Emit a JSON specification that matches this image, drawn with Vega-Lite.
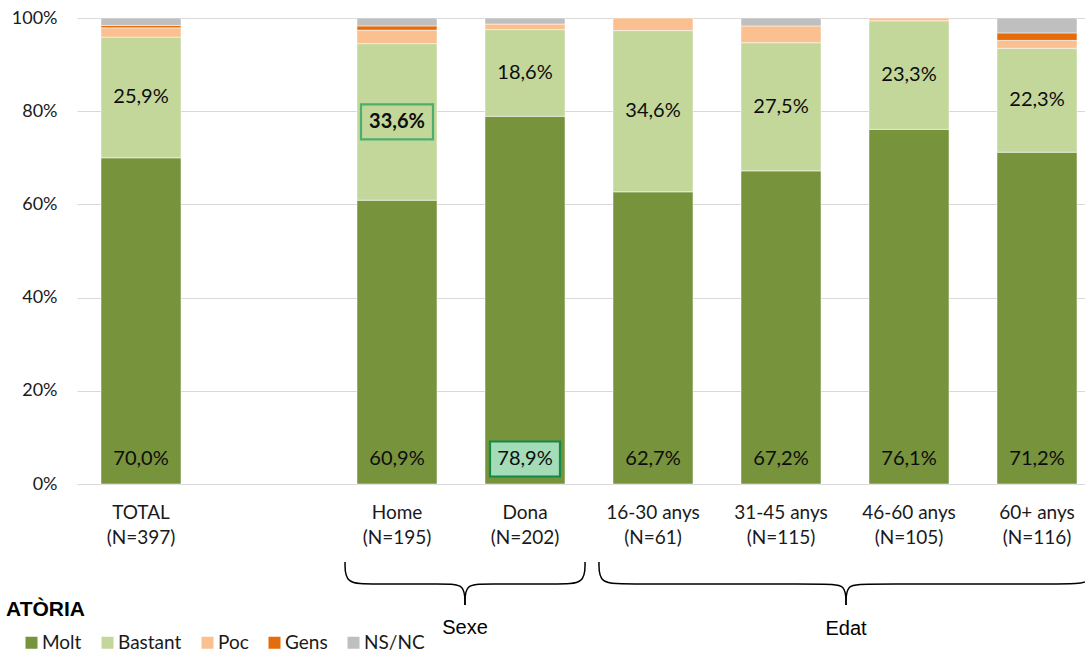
{
  "$schema": "https://vega.github.io/schema/vega-lite/v6.json",
  "width": 1008,
  "height": 466,
  "autosize": {"type": "none"},
  "padding": {"left": 77, "top": 18, "right": 0, "bottom": 169},
  "background": "white",
  "config": {
    "view": {"stroke": null},
    "locale": {"number": {"decimal": ",", "thousands": ".", "grouping": [3], "currency": ["", " €"]}},
    "axis": {"labelFont": "Lato", "labelColor": "#1a1a1a", "ticks": false, "tickSize": 0, "domain": false},
    "axisY": {"grid": true, "gridColor": "#d9d9d9", "gridWidth": 1, "labelFontSize": 18, "labelPadding": 20}
  },
  "datasets": {
    "bars": [
      {"g": "TOTAL|(N=397)", "cat": "Molt", "k": 1, "value": 0.700},
      {"g": "TOTAL|(N=397)", "cat": "Bastant", "k": 2, "value": 0.259},
      {"g": "TOTAL|(N=397)", "cat": "Poc", "k": 3, "value": 0.020},
      {"g": "TOTAL|(N=397)", "cat": "Gens", "k": 4, "value": 0.005},
      {"g": "TOTAL|(N=397)", "cat": "NS/NC", "k": 5, "value": 0.016},
      {"g": "Home|(N=195)", "cat": "Molt", "k": 1, "value": 0.609},
      {"g": "Home|(N=195)", "cat": "Bastant", "k": 2, "value": 0.336},
      {"g": "Home|(N=195)", "cat": "Poc", "k": 3, "value": 0.029},
      {"g": "Home|(N=195)", "cat": "Gens", "k": 4, "value": 0.009},
      {"g": "Home|(N=195)", "cat": "NS/NC", "k": 5, "value": 0.017},
      {"g": "Dona|(N=202)", "cat": "Molt", "k": 1, "value": 0.789},
      {"g": "Dona|(N=202)", "cat": "Bastant", "k": 2, "value": 0.186},
      {"g": "Dona|(N=202)", "cat": "Poc", "k": 3, "value": 0.012},
      {"g": "Dona|(N=202)", "cat": "NS/NC", "k": 5, "value": 0.013},
      {"g": "16-30 anys|(N=61)", "cat": "Molt", "k": 1, "value": 0.627},
      {"g": "16-30 anys|(N=61)", "cat": "Bastant", "k": 2, "value": 0.346},
      {"g": "16-30 anys|(N=61)", "cat": "Poc", "k": 3, "value": 0.027},
      {"g": "31-45 anys|(N=115)", "cat": "Molt", "k": 1, "value": 0.672},
      {"g": "31-45 anys|(N=115)", "cat": "Bastant", "k": 2, "value": 0.275},
      {"g": "31-45 anys|(N=115)", "cat": "Poc", "k": 3, "value": 0.036},
      {"g": "31-45 anys|(N=115)", "cat": "NS/NC", "k": 5, "value": 0.017},
      {"g": "46-60 anys|(N=105)", "cat": "Molt", "k": 1, "value": 0.761},
      {"g": "46-60 anys|(N=105)", "cat": "Bastant", "k": 2, "value": 0.233},
      {"g": "46-60 anys|(N=105)", "cat": "Poc", "k": 3, "value": 0.006},
      {"g": "60+ anys|(N=116)", "cat": "Molt", "k": 1, "value": 0.712},
      {"g": "60+ anys|(N=116)", "cat": "Bastant", "k": 2, "value": 0.223},
      {"g": "60+ anys|(N=116)", "cat": "Poc", "k": 3, "value": 0.017},
      {"g": "60+ anys|(N=116)", "cat": "Gens", "k": 4, "value": 0.016},
      {"g": "60+ anys|(N=116)", "cat": "NS/NC", "k": 5, "value": 0.032}
    ],
    "brace": [
      {"b": "Sexe-L", "i": 1, "v": 1.594, "u": -0.1674},
      {"b": "Sexe-L", "i": 2, "v": 1.594, "u": -0.2146},
      {"b": "Sexe-L", "i": 3, "v": 1.805, "u": -0.2146},
      {"b": "Sexe-L", "i": 4, "v": 2.375, "u": -0.2146},
      {"b": "Sexe-L", "i": 5, "v": 2.531, "u": -0.2146},
      {"b": "Sexe-L", "i": 6, "v": 2.531, "u": -0.2597},
      {"b": "Sexe-R", "i": 1, "v": 3.469, "u": -0.1674},
      {"b": "Sexe-R", "i": 2, "v": 3.469, "u": -0.2146},
      {"b": "Sexe-R", "i": 3, "v": 3.258, "u": -0.2146},
      {"b": "Sexe-R", "i": 4, "v": 2.688, "u": -0.2146},
      {"b": "Sexe-R", "i": 5, "v": 2.531, "u": -0.2146},
      {"b": "Sexe-R", "i": 6, "v": 2.531, "u": -0.2597},
      {"b": "Edat-L", "i": 1, "v": 3.578, "u": -0.1674},
      {"b": "Edat-L", "i": 2, "v": 3.578, "u": -0.2146},
      {"b": "Edat-L", "i": 3, "v": 3.789, "u": -0.2146},
      {"b": "Edat-L", "i": 4, "v": 5.352, "u": -0.2146},
      {"b": "Edat-L", "i": 5, "v": 5.508, "u": -0.2146},
      {"b": "Edat-L", "i": 6, "v": 5.508, "u": -0.2597},
      {"b": "Edat-R", "i": 1, "v": 7.438, "u": -0.1674},
      {"b": "Edat-R", "i": 2, "v": 7.438, "u": -0.2146},
      {"b": "Edat-R", "i": 3, "v": 7.227, "u": -0.2146},
      {"b": "Edat-R", "i": 4, "v": 5.664, "u": -0.2146},
      {"b": "Edat-R", "i": 5, "v": 5.508, "u": -0.2146},
      {"b": "Edat-R", "i": 6, "v": 5.508, "u": -0.2597}
    ],
    "groups": [
      {"t": "Sexe", "v": 2.531, "u": -0.309},
      {"t": "Edat", "v": 5.508, "u": -0.311}
    ],
    "heading": [
      {"t": "ATÒRIA", "v": -0.4375, "u": -0.283}
    ]
  },
  "resolve": {"scale": {"x": "independent"}},
  "layer": [
    {
      "data": {"name": "bars"},
      "encoding": {
        "x": {
          "field": "g",
          "type": "nominal",
          "sort": null,
          "scale": {
            "domain": ["TOTAL|(N=397)", " ", "Home|(N=195)", "Dona|(N=202)", "16-30 anys|(N=61)", "31-45 anys|(N=115)", "46-60 anys|(N=105)", "60+ anys|(N=116)"],
            "paddingInner": 0.375,
            "paddingOuter": 0.125,
            "align": 0.75
          },
          "axis": {
            "labelExpr": "split(datum.label, '|')",
            "labelFont": "Lato",
            "labelFontSize": 19,
            "labelColor": "#1a1a1a",
            "labelPadding": 19,
            "labelBaseline": "top",
            "labelLineHeight": 25,
            "labelAngle": 0,
            "ticks": false,
            "domain": false,
            "grid": false,
            "title": null
          }
        }
      },
      "layer": [
        {
          "mark": {"type": "bar", "stroke": "white", "strokeWidth": 0.5},
          "encoding": {
            "y": {
              "field": "value",
              "type": "quantitative",
              "stack": "zero",
              "title": null,
              "scale": {"domain": [0, 1], "nice": false},
              "axis": {"values": [0, 0.2, 0.4, 0.6, 0.8, 1], "format": ".0%", "title": null}
            },
            "color": {
              "field": "cat",
              "type": "nominal",
              "scale": {
                "domain": ["Molt", "Bastant", "Poc", "Gens", "NS/NC"],
                "range": ["#77933C", "#C4D79B", "#FAC090", "#E46C0A", "#BFBFBF"]
              },
              "legend": {
                "title": null,
                "orient": "none",
                "legendX": -55,
                "legendY": 615,
                "direction": "horizontal",
                "symbolType": "square",
                "symbolSize": 144,
                "symbolStrokeWidth": 0,
                "labelFont": "Lato",
                "labelFontSize": 19,
                "labelColor": "#1a1a1a",
                "labelOffset": 1,
                "columnPadding": 16,
                "padding": 0
              }
            },
            "order": {"field": "k", "type": "quantitative"}
          }
        },
        {
          "mark": {
            "type": "point",
            "shape": "M-1,-0.486L1,-0.486L1,0.486L-1,0.486Z",
            "size": 5184,
            "filled": false,
            "stroke": "#4caf6e",
            "strokeWidth": 2.2
          },
          "encoding": {
            "y": {
              "field": "value",
              "type": "quantitative",
              "stack": "zero",
              "bandPosition": 0.5,
              "title": null,
              "scale": {"domain": [0, 1], "nice": false},
              "axis": {"values": [0, 0.2, 0.4, 0.6, 0.8, 1], "format": ".0%", "title": null}
            },
            "detail": {"field": "cat"},
            "order": {"field": "k", "type": "quantitative"},
            "opacity": {
              "condition": {"test": "datum.cat === 'Bastant' && datum.g === 'Home|(N=195)'", "value": 1},
              "value": 0
            }
          }
        },
        {
          "mark": {"type": "text", "font": "Lato", "fontSize": 20, "color": "#0d0d0d", "baseline": "middle"},
          "encoding": {
            "y": {
              "field": "value",
              "type": "quantitative",
              "stack": "zero",
              "bandPosition": 0.5,
              "title": null,
              "scale": {"domain": [0, 1], "nice": false},
              "axis": {"values": [0, 0.2, 0.4, 0.6, 0.8, 1], "format": ".0%", "title": null}
            },
            "detail": {"field": "cat"},
            "order": {"field": "k", "type": "quantitative"},
            "text": {
              "condition": {"test": "datum.cat === 'Bastant' && datum.g !== 'Home|(N=195)'", "field": "value", "type": "quantitative", "format": ".1%"},
              "value": ""
            }
          }
        },
        {
          "mark": {"type": "text", "font": "Lato", "fontSize": 20, "fontWeight": "bold", "color": "#0d0d0d", "baseline": "middle"},
          "encoding": {
            "y": {
              "field": "value",
              "type": "quantitative",
              "stack": "zero",
              "bandPosition": 0.5,
              "title": null,
              "scale": {"domain": [0, 1], "nice": false},
              "axis": {"values": [0, 0.2, 0.4, 0.6, 0.8, 1], "format": ".0%", "title": null}
            },
            "detail": {"field": "cat"},
            "order": {"field": "k", "type": "quantitative"},
            "text": {
              "condition": {"test": "datum.cat === 'Bastant' && datum.g === 'Home|(N=195)'", "field": "value", "type": "quantitative", "format": ".1%"},
              "value": ""
            }
          }
        },
        {
          "transform": [{"filter": "datum.cat === 'Molt' && datum.g === 'Dona|(N=202)'"}],
          "mark": {
            "type": "point",
            "shape": "M-1,-0.5L1,-0.5L1,0.5L-1,0.5Z",
            "size": 4900,
            "filled": true,
            "fill": "#a3dcb6",
            "stroke": "#138a48",
            "strokeWidth": 2.2,
            "opacity": 1,
            "fillOpacity": 1,
            "yOffset": -25
          },
          "encoding": {
            "y": {"datum": 0, "type": "quantitative", "title": null, "scale": {"domain": [0, 1], "nice": false}, "axis": {"values": [0, 0.2, 0.4, 0.6, 0.8, 1], "format": ".0%", "title": null}}
          }
        },
        {
          "transform": [{"filter": "datum.cat === 'Molt'"}],
          "mark": {"type": "text", "font": "Lato", "fontSize": 20, "color": "#0d0d0d", "baseline": "middle", "dy": -25},
          "encoding": {
            "y": {"datum": 0, "type": "quantitative", "title": null, "scale": {"domain": [0, 1], "nice": false}, "axis": {"values": [0, 0.2, 0.4, 0.6, 0.8, 1], "format": ".0%", "title": null}},
            "text": {"field": "value", "type": "quantitative", "format": ".1%"}
          }
        }
      ]
    },
    {
      "layer": [
        {
          "data": {"name": "brace"},
          "mark": {"type": "line", "interpolate": "basis", "color": "#000000", "strokeWidth": 1.5},
          "encoding": {
            "x": {"field": "v", "type": "quantitative", "scale": {"domain": [-0.5, 7.375], "nice": false, "zero": false}, "axis": null},
            "y": {"field": "u", "type": "quantitative", "title": null, "scale": {"domain": [0, 1], "nice": false}, "axis": {"values": [0, 0.2, 0.4, 0.6, 0.8, 1], "format": ".0%", "title": null}},
            "detail": {"field": "b"},
            "order": {"field": "i", "type": "quantitative"}
          }
        },
        {
          "data": {"name": "groups"},
          "mark": {"type": "text", "font": "Liberation Sans", "fontSize": 20, "color": "#000000", "baseline": "middle"},
          "encoding": {
            "x": {"field": "v", "type": "quantitative", "scale": {"domain": [-0.5, 7.375], "nice": false, "zero": false}, "axis": null},
            "y": {"field": "u", "type": "quantitative", "title": null, "scale": {"domain": [0, 1], "nice": false}, "axis": {"values": [0, 0.2, 0.4, 0.6, 0.8, 1], "format": ".0%", "title": null}},
            "text": {"field": "t"}
          }
        },
        {
          "data": {"name": "heading"},
          "mark": {"type": "text", "font": "Liberation Sans", "fontSize": 21, "fontWeight": "bold", "color": "#000000", "align": "right", "baseline": "alphabetic"},
          "encoding": {
            "x": {"field": "v", "type": "quantitative", "scale": {"domain": [-0.5, 7.375], "nice": false, "zero": false}, "axis": null},
            "y": {"field": "u", "type": "quantitative", "title": null, "scale": {"domain": [0, 1], "nice": false}, "axis": {"values": [0, 0.2, 0.4, 0.6, 0.8, 1], "format": ".0%", "title": null}},
            "text": {"field": "t"}
          }
        }
      ]
    }
  ]
}
